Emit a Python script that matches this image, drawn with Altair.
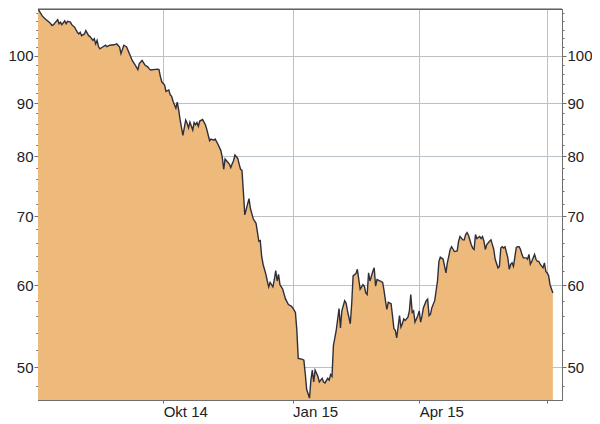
import altair as alt
import pandas as pd

dates = [
    "2014-07-04", "2014-07-07", "2014-07-09", "2014-07-12", "2014-07-13", "2014-07-14", "2014-07-15",
    "2014-07-18", "2014-07-19", "2014-07-20", "2014-07-21", "2014-07-23", "2014-07-24", "2014-07-25",
    "2014-07-27", "2014-07-28", "2014-07-30",
    "2014-08-01", "2014-08-02", "2014-08-03", "2014-08-04", "2014-08-06", "2014-08-07", "2014-08-09",
    "2014-08-10", "2014-08-12", "2014-08-13", "2014-08-14", "2014-08-15", "2014-08-16", "2014-08-17",
    "2014-08-19", "2014-08-21", "2014-08-22", "2014-08-24", "2014-08-27", "2014-08-29", "2014-08-31",
    "2014-09-01", "2014-09-03", "2014-09-05", "2014-09-07", "2014-09-09", "2014-09-11", "2014-09-13",
    "2014-09-14", "2014-09-16", "2014-09-18", "2014-09-20", "2014-09-21", "2014-09-22", "2014-09-27",
    "2014-09-28", "2014-09-29", "2014-09-30",
    "2014-10-02", "2014-10-03", "2014-10-05", "2014-10-06", "2014-10-07", "2014-10-08", "2014-10-10",
    "2014-10-11", "2014-10-12", "2014-10-13", "2014-10-15", "2014-10-17", "2014-10-18", "2014-10-19",
    "2014-10-20", "2014-10-22", "2014-10-23", "2014-10-24", "2014-10-25", "2014-10-26", "2014-10-27",
    "2014-10-29", "2014-10-30", "2014-10-31",
    "2014-11-01", "2014-11-03", "2014-11-04", "2014-11-06", "2014-11-07", "2014-11-09", "2014-11-11",
    "2014-11-12", "2014-11-13", "2014-11-14", "2014-11-15", "2014-11-17", "2014-11-18", "2014-11-19",
    "2014-11-20", "2014-11-21", "2014-11-23", "2014-11-24", "2014-11-25", "2014-11-26", "2014-11-27",
    "2014-11-28",
    "2014-12-01", "2014-12-02", "2014-12-03", "2014-12-04", "2014-12-06", "2014-12-08", "2014-12-09",
    "2014-12-10", "2014-12-11", "2014-12-13", "2014-12-14", "2014-12-15", "2014-12-16", "2014-12-18",
    "2014-12-19", "2014-12-20", "2014-12-21", "2014-12-22", "2014-12-23", "2014-12-25", "2014-12-26",
    "2014-12-27", "2014-12-29", "2014-12-31",
    "2015-01-01", "2015-01-03", "2015-01-04", "2015-01-05", "2015-01-08", "2015-01-09", "2015-01-10",
    "2015-01-11", "2015-01-13", "2015-01-14", "2015-01-15", "2015-01-16", "2015-01-17", "2015-01-19",
    "2015-01-20", "2015-01-22", "2015-01-23", "2015-01-24", "2015-01-26", "2015-01-27", "2015-01-28",
    "2015-01-29", "2015-01-30",
    "2015-02-01", "2015-02-03", "2015-02-04", "2015-02-05", "2015-02-07", "2015-02-08", "2015-02-09",
    "2015-02-11", "2015-02-12", "2015-02-13", "2015-02-15", "2015-02-16", "2015-02-18", "2015-02-20",
    "2015-02-21", "2015-02-22", "2015-02-23", "2015-02-24", "2015-02-25", "2015-02-27", "2015-02-28",
    "2015-03-01", "2015-03-02", "2015-03-04", "2015-03-06", "2015-03-07", "2015-03-08", "2015-03-09",
    "2015-03-10", "2015-03-12", "2015-03-13", "2015-03-14", "2015-03-15", "2015-03-16", "2015-03-18",
    "2015-03-19", "2015-03-20", "2015-03-21", "2015-03-22", "2015-03-24", "2015-03-25", "2015-03-26",
    "2015-03-27", "2015-03-28", "2015-03-29", "2015-03-31",
    "2015-04-01", "2015-04-02", "2015-04-03", "2015-04-04", "2015-04-06", "2015-04-07", "2015-04-08",
    "2015-04-09", "2015-04-10", "2015-04-12", "2015-04-13", "2015-04-14", "2015-04-15", "2015-04-16",
    "2015-04-18", "2015-04-20", "2015-04-21", "2015-04-22", "2015-04-23", "2015-04-24", "2015-04-26",
    "2015-04-28", "2015-04-29", "2015-04-30",
    "2015-05-02", "2015-05-03", "2015-05-04", "2015-05-05", "2015-05-06", "2015-05-08", "2015-05-09",
    "2015-05-10", "2015-05-11", "2015-05-12", "2015-05-14", "2015-05-15", "2015-05-16", "2015-05-17",
    "2015-05-18", "2015-05-19", "2015-05-21", "2015-05-22", "2015-05-23", "2015-05-24", "2015-05-25",
    "2015-05-27", "2015-05-28", "2015-05-29", "2015-05-30", "2015-05-31",
    "2015-06-01", "2015-06-03", "2015-06-04", "2015-06-05", "2015-06-06", "2015-06-07", "2015-06-09",
    "2015-06-10", "2015-06-11", "2015-06-12", "2015-06-13", "2015-06-14", "2015-06-16", "2015-06-17",
    "2015-06-18", "2015-06-19", "2015-06-20", "2015-06-22", "2015-06-23", "2015-06-24", "2015-06-25",
    "2015-06-26", "2015-06-28", "2015-06-29", "2015-06-30",
    "2015-07-01", "2015-07-02", "2015-07-03", "2015-07-05",
]

values = [
    111.0, 109.3, 108.6, 107.8, 107.4, 107.0, 107.2,
    108.4, 107.4, 107.8, 107.2, 108.1, 107.4, 108.0,
    107.8, 107.2, 106.6,
    105.4, 105.0, 105.4, 104.6, 105.0, 105.8, 104.6,
    104.4, 103.5, 103.9, 102.7, 103.5, 102.1, 101.6,
    102.0, 102.4, 102.1, 102.4, 102.5, 102.7, 102.0,
    100.5, 102.4, 102.0, 100.5, 99.0, 98.0, 97.0,
    98.3, 99.0, 98.0, 97.6, 97.2, 96.9, 97.1,
    97.0, 95.5, 94.4,
    93.7, 92.4, 92.7, 91.7, 91.4, 90.4, 89.0,
    90.2, 88.7, 86.8, 83.8, 86.7, 86.1, 85.2,
    86.3, 84.8, 86.2, 85.8, 86.2, 85.5, 86.5,
    86.8, 86.3, 85.8,
    84.9, 82.8, 83.1, 82.9, 83.1, 82.1, 81.0,
    79.8, 77.7, 79.5, 79.2, 78.6, 78.0, 78.6,
    79.2, 80.2, 79.6, 78.6, 77.7, 77.5, 73.9,
    70.2,
    72.8, 71.2, 70.4, 69.6, 68.9, 66.2, 66.3,
    64.0, 62.9, 61.5, 60.6, 59.8, 60.4, 59.8,
    60.8, 62.0, 60.6, 61.5, 60.1, 59.5, 58.8,
    58.2, 57.5, 57.3,
    57.1, 56.5, 54.3, 51.0, 50.9, 50.8, 49.3,
    47.6, 46.7, 48.6, 49.7, 48.4, 49.7, 49.0,
    48.4, 48.8, 48.4, 48.3, 48.8, 48.6, 49.2,
    49.0, 52.5,
    54.3, 57.0, 54.6, 56.7, 58.0, 57.7, 56.7,
    55.1, 57.6, 61.3, 61.6, 62.2, 59.5, 60.1,
    59.9, 59.0, 58.8, 61.7, 60.6, 61.9, 62.4,
    59.9, 60.8, 60.6, 60.4, 59.3, 58.0, 56.9,
    57.8, 57.6, 56.1, 54.5, 54.3, 53.4, 56.1,
    54.7, 55.1, 55.7, 55.5, 55.9, 56.7, 58.8,
    56.5, 56.7, 55.3, 56.1,
    56.7, 55.3, 56.1, 57.1, 58.0, 58.2, 56.1,
    56.3, 57.1, 58.0, 59.3, 60.6, 63.3, 63.9,
    63.6, 61.7, 63.1, 64.0, 65.0, 65.4, 64.7,
    64.8, 66.2, 66.9,
    66.4, 66.4, 67.2, 67.5, 67.1, 65.7, 65.2,
    65.0, 67.2, 66.6, 66.9, 66.6, 66.9, 66.2,
    65.0, 65.7, 66.2, 66.4, 65.7, 65.0, 63.6,
    62.4, 62.6, 65.2, 65.4, 65.2,
    65.4, 63.8, 62.2, 62.9, 63.1, 62.6, 65.3,
    65.4, 65.4, 65.0, 64.3, 63.8, 63.8, 63.6,
    64.3, 62.9, 63.3, 64.3, 63.6, 63.3, 63.3,
    62.9, 62.4, 63.1, 61.9,
    61.7, 61.3, 60.1, 59.0,
]

y_major = [50, 60, 70, 80, 90, 100]
y_minor = [48, 52, 54, 56, 58, 62, 64, 66, 68, 72, 74, 76, 78,
           82, 84, 86, 88, 92, 94, 96, 98, 102, 104, 106, 108, 110]
y_domain = [46.5, 111.0]
x_tick_keys = ["2014-10", "2015-01", "2015-04", "2015-07"]
x_tick_labels = ["Okt 14", "Jan 15", "Apr 15", ""]

df = pd.DataFrame({"date": pd.to_datetime(dates), "price": values})
top_df = pd.DataFrame({"price": [y_domain[1]]})

FILL = "#EEBA7B"
LINE = "#2F2F3C"
AXIS = "#6E6E6E"
GRID = "#BAC2C7"
FONT = "Liberation Sans"

x_scale = alt.Scale(domain=[alt.DateTime(year=2014, month=7, date=4),
                            alt.DateTime(year=2015, month=7, date=11, hours=12)])
y_scale = alt.Scale(type="log", domain=y_domain, nice=False, zero=False)

key_expr = "timeFormat(datum.value, '%Y-%m')"
label_expr = "''"
for k, lab in reversed(list(zip(x_tick_keys, x_tick_labels))):
    label_expr = f"({key_expr} == '{k}' ? '{lab}' : {label_expr})"

x_axis = alt.Axis(
    orient="bottom", title=None, grid=True, gridColor=GRID, gridWidth=1,
    tickCount={"interval": "month", "step": 3},
    labelExpr=label_expr,
    labelAlign="left", labelBaseline="top", labelFlush=False, labelPadding=1,
    tickSize=3, labelOverlap=False,
)
x_enc = alt.X("date:T", scale=x_scale, axis=x_axis)

def y_axis(orient, major):
    if major:
        return alt.Axis(orient=orient, title=None, values=y_major, format="d",
                        grid=(orient == "left"), gridColor=GRID, gridWidth=1,
                        tickSize=4, labelPadding=1, labelOverlap=False)
    return alt.Axis(orient=orient, title=None, values=y_minor, labels=False,
                    grid=False, tickSize=2)

base = alt.Chart(df)

area = base.mark_area(color=FILL, clip=True, interpolate="linear").encode(
    x=x_enc,
    y=alt.Y("price:Q", scale=y_scale, axis=y_axis("left", True)),
    y2=alt.datum(y_domain[0]),
)

line = base.mark_line(color=LINE, strokeWidth=1.4, clip=True).encode(
    x=x_enc,
    y=alt.Y("price:Q", scale=y_scale, axis=y_axis("right", True)),
)

minor_left = base.mark_line(opacity=0, clip=True).encode(
    x=x_enc,
    y=alt.Y("price:Q", scale=y_scale, axis=y_axis("left", False)),
)

minor_right = base.mark_line(opacity=0, clip=True).encode(
    x=x_enc,
    y=alt.Y("price:Q", scale=y_scale, axis=y_axis("right", False)),
)

top_border = alt.Chart(top_df).mark_rule(color="#555555", strokeWidth=1).encode(
    y=alt.Y("price:Q", scale=y_scale, axis=y_axis("left", False)),
)

chart = alt.layer(area, line, minor_left, minor_right, top_border).resolve_axis(
    y="independent", x="shared"
).properties(
    width=524, height=391,
    autosize=alt.AutoSizeParams(type="none"),
    padding={"left": 30, "top": 1, "right": 30, "bottom": 24},
    background="white",
).configure_view(
    stroke=AXIS, strokeWidth=1
).configure_axis(
    domainColor=AXIS, tickColor=AXIS, labelColor="#222222",
    labelFont=FONT, labelFontSize=15, domainWidth=1, tickWidth=1,
)

chart.save("out.html", embed_options={"renderer": "svg", "actions": False})
